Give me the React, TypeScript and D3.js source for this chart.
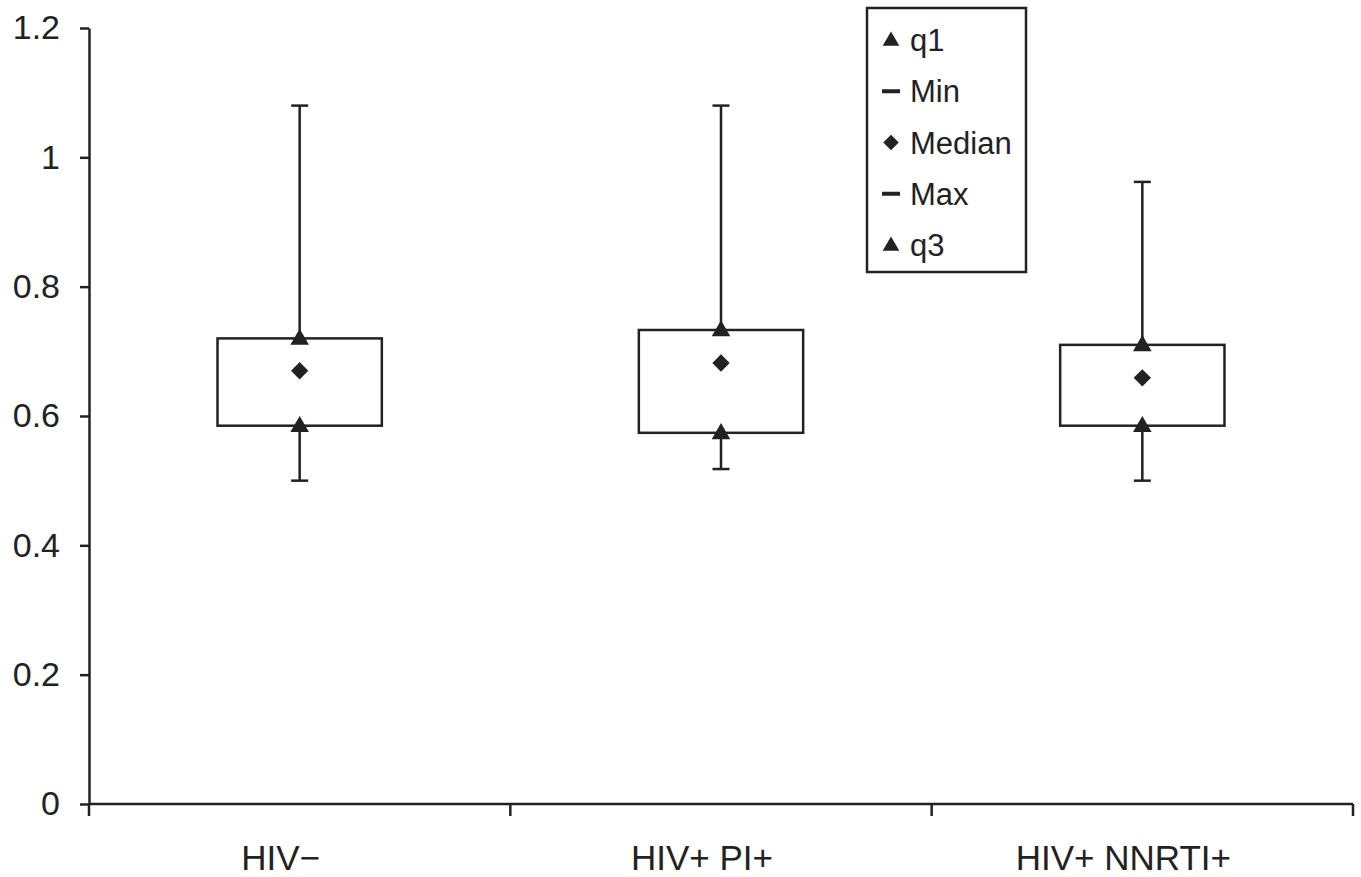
import { useEffect, useRef } from 'react';
import * as d3 from 'd3';

// groups and five-number summaries
const groups = ['HIV−', 'HIV+ PI+', 'HIV+ NNRTI+'];
const minVals = [0.5, 0.518, 0.5];
const q1Vals = [0.585, 0.574, 0.585];
const medianVals = [0.67, 0.682, 0.659];
const q3Vals = [0.72, 0.733, 0.71];
const maxVals = [1.08, 1.08, 0.962];

const yTicks = [0, 0.2, 0.4, 0.6, 0.8, 1, 1.2];
const legendLabels = ['q1', 'Min', 'Median', 'Max', 'q3'];
const legendSymbols = ['triangle', 'dash', 'diamond', 'dash', 'triangle'];

const INK = '#222';
const FONT = '"Liberation Sans", Arial, Helvetica, sans-serif';

export default function App() {
  const svgRef = useRef<SVGSVGElement>(null);

  useEffect(() => {
    if (!svgRef.current) return;
    const svg = d3.select(svgRef.current);
    svg.selectAll('*').remove();

    const width = 1361;
    const height = 877;
    const margin = { top: 28, right: 8, bottom: 73, left: 89 };
    const plotRight = 1353;

    const y = d3
      .scaleLinear()
      .domain([0, 1.2])
      .range([height - margin.bottom, margin.top]);

    const x = d3.scaleBand().domain(groups).range([margin.left, plotRight]).padding(0);
    const boxW = x.bandwidth() * 0.39;

    svg.attr('width', width).attr('height', height);

    // y axis
    const yAxis = svg
      .append('g')
      .attr('transform', `translate(${margin.left},0)`)
      .call(
        d3
          .axisLeft(y)
          .tickValues(yTicks)
          .tickSize(9)
          .tickSizeOuter(0)
          .tickPadding(20)
          .tickFormat(d => String(+(+d).toFixed(1)))
      );
    yAxis.select('.domain').attr('stroke', INK).attr('stroke-width', 2.5);
    yAxis.selectAll('.tick line').attr('stroke', INK).attr('stroke-width', 2.5);
    yAxis
      .selectAll('.tick text')
      .attr('fill', INK)
      .style('font-family', FONT)
      .style('font-size', '34px');

    // x axis: line, ticks on band edges, labels centred
    const y0 = y(0);
    svg
      .append('line')
      .attr('x1', margin.left)
      .attr('x2', plotRight)
      .attr('y1', y0)
      .attr('y2', y0)
      .attr('stroke', INK)
      .attr('stroke-width', 2.5);

    const edges = groups.map(g => x(g) as number).concat([plotRight]);
    svg
      .selectAll('.xtick')
      .data(edges)
      .enter()
      .append('line')
      .attr('x1', d => d)
      .attr('x2', d => d)
      .attr('y1', y0)
      .attr('y2', y0 + 12)
      .attr('stroke', INK)
      .attr('stroke-width', 2.5);

    // labels sit a little left of the band centre in the original
    svg
      .selectAll('.xlabel')
      .data(groups)
      .enter()
      .append('text')
      .attr('x', d => (x(d) as number) + x.bandwidth() / 2)
      .attr('dx', -19)
      .attr('y', 870)
      .attr('text-anchor', 'middle')
      .attr('fill', INK)
      .style('font-family', FONT)
      .style('font-size', '35px')
      .text(d => d);

    const tri = d3.symbol().type(d3.symbolTriangle).size(150);
    const dia = d3.symbol().type(d3.symbolSquare).size(150);

    groups.forEach((g, i) => {
      const cx = (x(g) as number) + x.bandwidth() / 2;
      const grp = svg.append('g');

      // whiskers
      grp
        .append('line')
        .attr('x1', cx)
        .attr('x2', cx)
        .attr('y1', y(maxVals[i]))
        .attr('y2', y(minVals[i]))
        .attr('stroke', INK)
        .attr('stroke-width', 2.5);
      [minVals[i], maxVals[i]].forEach(v => {
        grp
          .append('line')
          .attr('x1', cx - 8.5)
          .attr('x2', cx + 8.5)
          .attr('y1', y(v))
          .attr('y2', y(v))
          .attr('stroke', INK)
          .attr('stroke-width', 2.5);
      });

      // box
      grp
        .append('rect')
        .attr('x', cx - boxW / 2)
        .attr('width', boxW)
        .attr('y', y(q3Vals[i]))
        .attr('height', y(q1Vals[i]) - y(q3Vals[i]))
        .attr('fill', '#fff')
        .attr('stroke', INK)
        .attr('stroke-width', 2.5);

      // markers
      [q1Vals[i], q3Vals[i]].forEach(v => {
        grp
          .append('path')
          .attr('d', tri())
          .attr('transform', `translate(${cx},${y(v) + 1})`)
          .attr('fill', INK);
      });
      grp
        .append('path')
        .attr('d', dia())
        .attr('transform', `translate(${cx},${y(medianVals[i])}) rotate(45)`)
        .attr('fill', INK);
    });

    // legend
    const lg = svg.append('g');
    lg.append('rect')
      .attr('x', 867)
      .attr('y', 8)
      .attr('width', 159)
      .attr('height', 264)
      .attr('fill', '#fff')
      .attr('stroke', INK)
      .attr('stroke-width', 2.5);

    const rowY = d3.scalePoint().domain(legendLabels.map((_, i) => String(i))).range([40, 245]);
    const legTri = d3.symbol().type(d3.symbolTriangle).size(120);
    const legDia = d3.symbol().type(d3.symbolSquare).size(120);

    legendLabels.forEach((lab, i) => {
      const ry = rowY(String(i)) as number;
      const sym = legendSymbols[i];
      if (sym === 'triangle') {
        lg.append('path')
          .attr('d', legTri())
          .attr('transform', `translate(891,${ry + 1})`)
          .attr('fill', INK);
      } else if (sym === 'diamond') {
        lg.append('path')
          .attr('d', legDia())
          .attr('transform', `translate(891,${ry}) rotate(45)`)
          .attr('fill', INK);
      } else {
        lg.append('rect')
          .attr('x', 882)
          .attr('y', ry - 2)
          .attr('width', 18)
          .attr('height', 4)
          .attr('fill', INK);
      }
      lg.append('text')
        .attr('x', 910)
        .attr('y', ry)
        .attr('dy', '0.36em')
        .attr('fill', INK)
        .style('font-family', FONT)
        .style('font-size', '31px')
        .text(lab);
    });
  }, []);

  return (
    <div style={{ position: 'absolute', left: 0, top: 0, background: '#fff' }}>
      <svg ref={svgRef} style={{ display: 'block' }}></svg>
    </div>
  );
}
